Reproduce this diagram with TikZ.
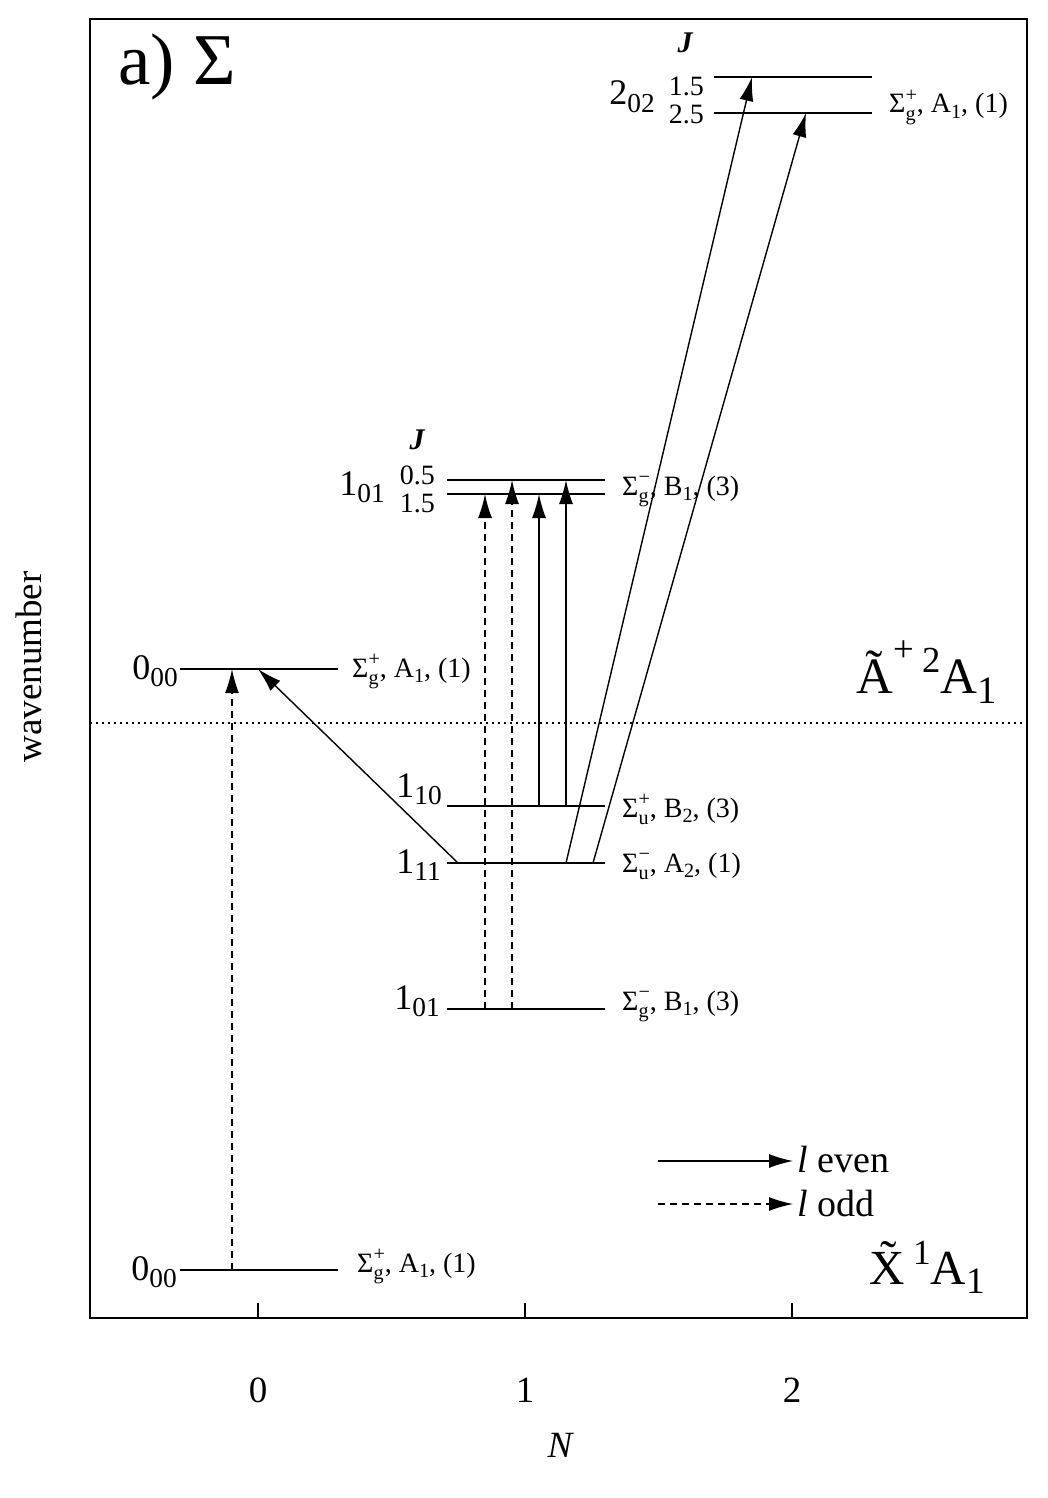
\documentclass[tikz,border=0pt]{standalone}
\usepackage{fontspec}
\setmainfont{Liberation Serif}
\usetikzlibrary{arrows.meta}
\newcommand\fs[1]{\fontsize{#1}{#1}\selectfont}
\newcommand\lsub[1]{\raisebox{-0.2em}{\scalebox{0.76}{#1}}}
\newcommand\lssub[1]{\raisebox{-0.2em}{\scalebox{0.72}{#1}}}
\newcommand\lsup[1]{\raisebox{0.40em}{\scalebox{0.72}{#1}}}
\newcommand\lhsup[1]{\raisebox{0.62em}{\scalebox{0.72}{#1}}}
\newcommand\lsps[2]{\begingroup\setbox0\hbox{\scalebox{0.72}{#1}}\setbox2\hbox{\scalebox{0.72}{#2}}\ifdim\wd0>\wd2 \wd2=\wd0\fi\rlap{\raisebox{0.40em}{\box0}}\raisebox{-0.27em}{\box2}\endgroup}
\newcommand\symlab[5]{Σ\lsps{#1}{#2}, #3\lssub{#4}, (#5)}
\newcommand\stlab[2]{#1\lsub{#2}}
\begin{document}
\begin{tikzpicture}[x=1pt,y=-1pt,
  lvl/.style={line width=1.8pt},
  evenarr/.style={line width=1.4pt,-{Latex[length=24pt,width=14pt]}},
  oddarr/.style={evenarr, dash pattern=on 7pt off 5pt},
  sym/.style={anchor=base west, inner sep=0pt, font=\fs{28}},
  st/.style={anchor=base east, inner sep=0pt, font=\fs{36}},
  jl/.style={anchor=east, inner sep=0pt, font=\fs{28}},
  jh/.style={inner sep=0pt, font=\fs{30}\bfseries\itshape},
  tick/.style={inner sep=0pt, font=\fs{37}}
]
\useasboundingbox (0,0) rectangle (1048,1498);
% frame
\draw[line width=1.8pt] (90,19) rectangle (1027,1318);
\foreach \x/\n in {258/0,525/1,792/2}{
  \draw[line width=1.5pt] (\x,1318) -- (\x,1303);
  \node[tick] (tick\n) at (\x,1390) {\n};
}
\node[tick, font=\fs{37}\itshape] (Nlab) at (560,1445) {N};
\node[tick, rotate=90] (wn) at (29,667) {wavenumber};
% separator
\draw[line width=1.2pt, dash pattern=on 1.5pt off 4.5pt] (90,723) -- (1027,723);
% titles
\node[anchor=base west, inner sep=0pt, font=\fs{73}] (title) at (118,85) {a) Σ};
\node[anchor=base east, inner sep=0pt, font=\fs{51}] (Astate) at (997,693) {\~{A}\lhsup{+}\,\lsup{2}A\lsub{1}};
\node[anchor=base east, inner sep=0pt, font=\fs{49}] (Xstate) at (985,1284) {\~{X}\,\lsup{1}A\lsub{1}};
% level coordinates
\coordinate (x00L) at (180,1270); \coordinate (x00R) at (338,1270);
\coordinate (a00L) at (180,669);  \coordinate (a00R) at (338,669);
\coordinate (lo101L) at (447,1009); \coordinate (lo101R) at (605,1009);
\coordinate (l111L) at (447,863); \coordinate (l111R) at (605,863);
\coordinate (l110L) at (447,806); \coordinate (l110R) at (605,806);
\coordinate (upaL) at (447,480); \coordinate (upaR) at (605,480);
\coordinate (upbL) at (447,494); \coordinate (upbR) at (605,494);
\coordinate (tpaL) at (714,77); \coordinate (tpaR) at (872,77);
\coordinate (tpbL) at (714,113); \coordinate (tpbR) at (872,113);
\foreach \a in {x00,a00,lo101,l111,l110,upa,upb,tpa,tpb}{
  \draw[lvl] (\a L) -- (\a R);
}
% state labels
\node[st] (sx00) at (177,1280) {\stlab{0}{00}};
\node[st] (sa00) at (178,679) {\stlab{0}{00}};
\node[st] (slo101) at (440,1009) {\stlab{1}{01}};
\node[st] (sl111) at (441,873) {\stlab{1}{11}};
\node[st] (sl110) at (442,797) {\stlab{1}{10}};
\node[st] (sup101) at (385,495) {\stlab{1}{01}};
\node[st] (stp202) at (655,105) {\stlab{2}{02}};
% J labels
\node[jh] (J1) at (417,440) {J};
\node[jl] (j05) at (435,475) {0.5};
\node[jl] (j15a) at (435,503) {1.5};
\node[jh] (J2) at (685,43) {J};
\node[jl] (j15b) at (704,86) {1.5};
\node[jl] (j25) at (704,114) {2.5};
% symmetry labels
\node[sym] (yx00) at (357,1272) {\symlab{+}{g}{A}{1}{1}};
\node[sym] (ya00) at (352,677) {\symlab{+}{g}{A}{1}{1}};
\node[sym] (ylo101) at (622,1010) {\symlab{−}{g}{B}{1}{3}};
\node[sym] (yl111) at (622,872) {\symlab{−}{u}{A}{2}{1}};
\node[sym] (yl110) at (622,817) {\symlab{+}{u}{B}{2}{3}};
\node[sym] (yup101) at (622,495) {\symlab{−}{g}{B}{1}{3}};
\node[sym] (ytp202) at (889,113) {\symlab{+}{g}{A}{1}{1}};
% transition coordinates
\coordinate (t1s) at (232,1270); \coordinate (t1e) at (232,669);
\coordinate (t2s) at (458,863); \coordinate (t2e) at (258,669);
\coordinate (t3s) at (485,1009); \coordinate (t3e) at (485,494);
\coordinate (t4s) at (512,1009); \coordinate (t4e) at (512,480);
\coordinate (t5s) at (539,806); \coordinate (t5e) at (539,494);
\coordinate (t6s) at (566,806); \coordinate (t6e) at (566,480);
\coordinate (t7s) at (566,863); \coordinate (t7e) at (752,77);
\coordinate (t8s) at (593,863); \coordinate (t8e) at (806,113);
\draw[oddarr] (t1s) -- (t1e);
\draw[evenarr] (t2s) -- (t2e);
\draw[oddarr] (t3s) -- (t3e);
\draw[oddarr] (t4s) -- (t4e);
\draw[evenarr] (t5s) -- (t5e);
\draw[evenarr] (t6s) -- (t6e);
\draw[evenarr] (t7s) -- (t7e);
\draw[evenarr] (t8s) -- (t8e);
% legend
\coordinate (le1) at (658,1161); \coordinate (le2) at (793,1161);
\coordinate (lo1) at (658,1204); \coordinate (lo2) at (793,1204);
\draw[evenarr] (le1) -- (le2);
\draw[oddarr] (lo1) -- (lo2);
\node[anchor=base west, inner sep=0pt, font=\fs{38}] (leven) at (797,1172) {\textit{l} even};
\node[anchor=base west, inner sep=0pt, font=\fs{38}] (lodd) at (797,1216) {\textit{l} odd};
\end{tikzpicture}
\end{document}
